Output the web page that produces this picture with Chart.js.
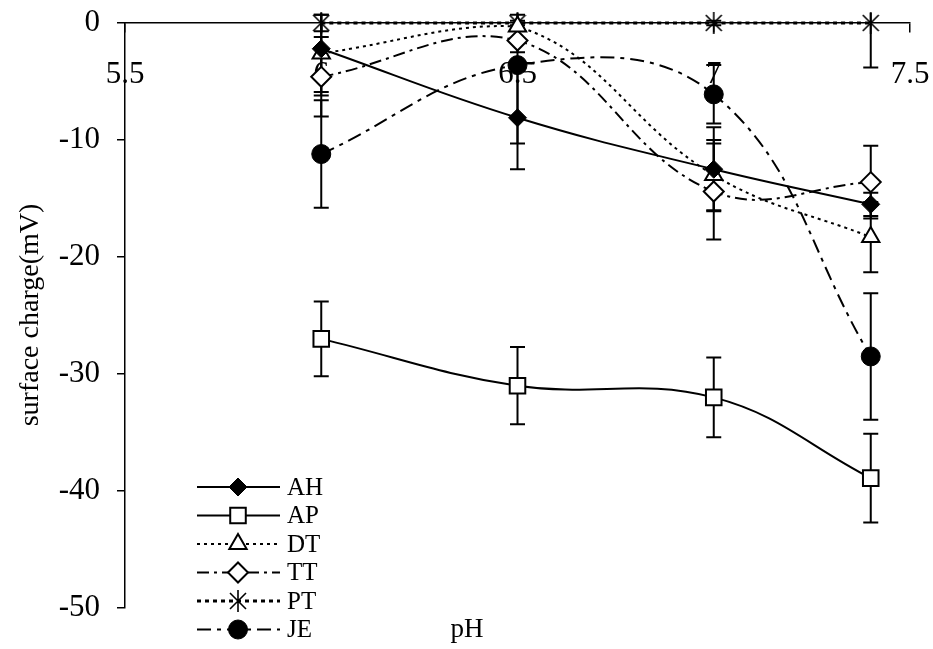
<!DOCTYPE html>
<html>
<head>
<meta charset="utf-8">
<script src="https://cdn.jsdelivr.net/npm/chart.js@4.4.1/dist/chart.umd.min.js"></script>
<style>
  body { margin: 0; background: #fff; }
  #wrap { width: 933px; height: 649px; }
</style>
</head>
<body>
<div id="wrap"><canvas id="myChart" width="933" height="649"></canvas></div>
<script>
/* pH values measured */
const ph = [6, 6.5, 7, 7.4];
const xTicks = [5.5, 6, 6.5, 7, 7.5];
const yTicks = [0, -10, -20, -30, -40, -50];

/* surface charge (mV) and error per sample */
const ah = [-2.2, -8.1, -12.5, -15.5];
const ahErr = [4.0, 4.4, 3.6, 1.0];
const ap = [-27.0, -31.0, -32.0, -38.9];
const apErr = [3.2, 3.3, 3.4, 3.8];
const dt = [-2.6, -0.3, -13.0, -18.3];
const dtErr = [3.3, 1.0, 3.0, 3.0];
const tt = [-4.6, -1.5, -14.4, -13.6];
const ttErr = [3.4, 1.0, 4.1, 3.1];
const pt = [0, 0, 0, 0];
const ptErr = [0.7, 0.2, 0.2, 3.8];
const je = [-11.2, -3.6, -6.1, -28.5];
const jeErr = [4.6, 6.7, 2.5, 5.4];

const errs = [ahErr, apErr, dtErr, ttErr, ptErr, jeErr];

const serif = "'Liberation Serif', 'Times New Roman', Times, serif";

// excel style star marker: an X with a vertical bar
let asterisk = () => {
  const c = document.createElement('canvas');
  c.width = 18; c.height = 22;
  const g = c.getContext('2d');
  g.strokeStyle = '#000';
  g.lineWidth = 1.6;
  g.beginPath();
  g.moveTo(1, 3); g.lineTo(17, 19);
  g.moveTo(17, 3); g.lineTo(1, 19);
  g.moveTo(9, 0); g.lineTo(9, 22);
  g.stroke();
  return c;
};

let series = (label, values, style) => ({
  label: label,
  data: ph.map((x, i) => ({ x: x, y: values[i] })),
  borderColor: '#000',
  borderWidth: 2,
  pointBorderColor: '#000',
  pointBorderWidth: 2,
  tension: 0.4,
  clip: false,
  ...style
});

const datasets = [
  series('AH', ah, { pointStyle: 'rectRot', pointRadius: 9, pointBackgroundColor: '#000', pointBorderWidth: 1 }),
  series('AP', ap, { pointStyle: 'rect', pointRadius: 11, pointBackgroundColor: '#fff' }),
  series('DT', dt, { borderDash: [3, 4], pointStyle: 'triangle', pointRadius: 10, pointBackgroundColor: '#fff' }),
  series('TT', tt, { borderDash: [12, 5, 3, 5], pointStyle: 'rectRot', pointRadius: 10, pointBackgroundColor: '#fff' }),
  series('PT', pt, { borderDash: [4, 4], borderWidth: 3, pointStyle: asterisk(), pointRadius: 10, pointBackgroundColor: '#fff' }),
  series('JE', je, { borderDash: [14, 6, 4, 6], pointStyle: 'circle', pointRadius: 9.5, pointBackgroundColor: '#000', pointBorderWidth: 1 })
];

/* vertical error bars with caps, drawn under the lines */
const errorBars = {
  id: 'errorBars',
  beforeDatasetsDraw(chart) {
    const { ctx, chartArea, scales: { x, y } } = chart;
    ctx.save();
    // allow a little overhang above the zero line, not the whole way up
    ctx.beginPath();
    ctx.rect(0, chartArea.top - 10, chart.width, chart.height);
    ctx.clip();
    ctx.strokeStyle = '#000';
    ctx.lineWidth = 2;
    chart.data.datasets.forEach((ds, d) => {
      ds.data.forEach((p, i) => {
        const px = x.getPixelForValue(p.x);
        const top = y.getPixelForValue(p.y + errs[d][i]);
        const bot = y.getPixelForValue(p.y - errs[d][i]);
        ctx.beginPath();
        ctx.moveTo(px, top); ctx.lineTo(px, bot);
        ctx.moveTo(px - 7.5, top); ctx.lineTo(px + 7.5, top);
        ctx.moveTo(px - 7.5, bot); ctx.lineTo(px + 7.5, bot);
        ctx.stroke();
      });
    });
    ctx.restore();
  }
};

/* legend box in the lower left, plus axis titles */
const sideLegend = {
  id: 'sideLegend',
  afterDraw(chart) {
    const ctx = chart.ctx;
    ctx.save();
    chart.data.datasets.forEach((ds, i) => {
      const yy = 487 + i * 28.5;
      ctx.strokeStyle = '#000';
      ctx.lineWidth = ds.borderWidth;
      ctx.setLineDash(ds.borderDash || []);
      ctx.beginPath();
      ctx.moveTo(197, yy); ctx.lineTo(280, yy);
      ctx.stroke();
      ctx.setLineDash([]);
      ctx.fillStyle = ds.pointBackgroundColor;
      ctx.lineWidth = ds.pointBorderWidth;
      Chart.helpers.drawPoint(ctx, {
        pointStyle: ds.pointStyle,
        radius: ds.pointRadius,
        borderWidth: ds.pointBorderWidth,
        rotation: 0
      }, 238, yy);
      ctx.fillStyle = '#000';
      ctx.font = '25px ' + serif;
      ctx.textAlign = 'left';
      ctx.textBaseline = 'middle';
      ctx.fillText(ds.label, 287, yy + 1);
    });

    ctx.font = '27px ' + serif;
    ctx.textAlign = 'center';
    ctx.textBaseline = 'middle';
    ctx.fillText('pH', 467, 630);

    ctx.translate(31, 315);
    ctx.rotate(-Math.PI / 2);
    ctx.font = '28px ' + serif;
    ctx.fillText('surface charge(mV)', 0, 0);
    ctx.restore();
  }
};

// keep the plot box fixed: no extra room for overhanging tick labels
let noPadding = (scale) => {
  scale.paddingTop = 0;
  scale.paddingBottom = 0;
  scale.paddingLeft = 0;
  scale.paddingRight = 0;
};

const ctx = document.getElementById('myChart');
new Chart(ctx, {
  type: 'line',
  data: { datasets: datasets },
  options: {
    responsive: false,
    animation: false,
    events: [],
    layout: { padding: { left: 0, top: 23, right: 23, bottom: 41 } },
    plugins: { legend: { display: false }, tooltip: { enabled: false } },
    scales: {
      x: {
        type: 'linear',
        position: { y: 0 },
        min: 5.5,
        max: 7.5,
        afterBuildTicks: (scale) => { scale.ticks = xTicks.map(v => ({ value: v })); },
        afterFit: noPadding,
        ticks: {
          color: '#000',
          font: { family: serif, size: 31 },
          padding: 24,
          maxRotation: 0,
          callback: (v) => String(v)
        },
        grid: { drawOnChartArea: false, drawTicks: true, tickLength: 9, color: '#000', lineWidth: 1.5 },
        border: { color: '#000', width: 1.5 }
      },
      y: {
        type: 'linear',
        min: -50,
        max: 0,
        afterBuildTicks: (scale) => { scale.ticks = yTicks.map(v => ({ value: v })); },
        afterFit: (scale) => { scale.width = 125; noPadding(scale); },
        ticks: {
          color: '#000',
          font: { family: serif, size: 31 },
          padding: 17,
          callback: (v) => String(v)
        },
        grid: { drawOnChartArea: false, drawTicks: true, tickLength: 8, color: '#000', lineWidth: 1.5 },
        border: { color: '#000', width: 1.5 }
      }
    }
  },
  plugins: [errorBars, sideLegend]
});
</script>
</body>
</html>
